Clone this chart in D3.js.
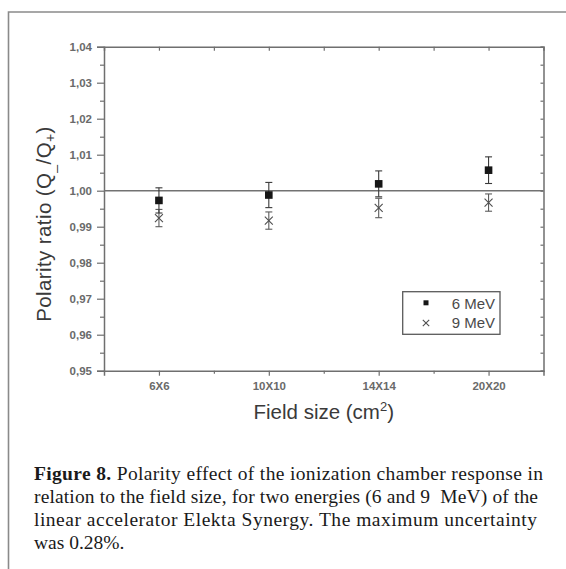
<!DOCTYPE html>
<html>
<head>
<meta charset="utf-8">
<script src="https://cdn.jsdelivr.net/npm/d3@7/dist/d3.min.js"></script>
<style>
  html, body { margin: 0; padding: 0; background: #fff; }
  svg { display: block; }
</style>
</head>
<body>
<div id="chart"></div>
<script>
// field sizes on the x axis
var categories = ["6X6", "10X10", "14X14", "20X20"];
// polarity ratio, 6 MeV and 9 MeV, with error bar half-widths
var mev6 = [0.9973, 0.9988, 1.0019, 1.0057];
var mev6Err = [0.0035, 0.0035, 0.0036, 0.0037];
var mev9 = [0.9924, 0.9917, 0.9952, 0.9967];
var mev9Err = [0.0024, 0.0024, 0.0027, 0.0024];
var yTicks = [0.95, 0.96, 0.97, 0.98, 0.99, 1.00, 1.01, 1.02, 1.03, 1.04];
var legendLabels = ["6 MeV", "9 MeV"];
var captionLines = [
  "relation to the field size, for two energies (6 and 9\u00a0 MeV) of the",
  "linear accelerator Elekta Synergy. The maximum uncertainty",
  "was 0.28%."
];

var width = 566, height = 569;
var plot = {left: 104, right: 543.5, top: 46.7, bottom: 370.7};
var axisColor = "#6f6f6f";

var svg = d3.select("#chart").append("svg")
    .attr("width", width).attr("height", height);

// outer frame (only left and top visible)
svg.append("path")
    .attr("d", "M8.5," + height + "V12H" + width)
    .attr("fill", "none").attr("stroke", "#8a8a8a").attr("stroke-width", 1.6);

var x = d3.scaleLinear().domain([0.5, 4.5]).range([plot.left, plot.right]);
var y = d3.scaleLinear().domain([0.95, 1.04]).range([plot.bottom, plot.top]);

var fmt = function (d) { return d3.format(".2f")(d).replace(".", ","); };

var minorY = d3.range(0, 19).map(function (i) { return 0.95 + i * 0.005; });

function styleAxis(g) {
  g.selectAll("path").attr("stroke", axisColor).attr("stroke-width", 1.5);
  g.selectAll("line").attr("stroke", axisColor).attr("stroke-width", 1.2);
  g.selectAll("text").attr("fill", "#6a6a6a")
      .style("font-family", "'Liberation Sans', Arial, sans-serif")
      .style("font-weight", "bold")
      .style("font-size", "11.5px");
}

// left axis
var gl = svg.append("g").attr("transform", "translate(" + plot.left + ",0)")
    .call(d3.axisLeft(y).tickValues(yTicks).tickFormat(fmt).tickSize(7).tickPadding(5));
styleAxis(gl);
var glm = svg.append("g").attr("transform", "translate(" + plot.left + ",0)")
    .call(d3.axisLeft(y).tickValues(minorY.filter(function (d, i) { return i % 2; }))
      .tickFormat("").tickSize(4));
styleAxis(glm);
glm.select("path").remove();

// right axis, ticks pointing inward
var gr = svg.append("g").attr("transform", "translate(" + plot.right + ",0)")
    .call(d3.axisRight(y).tickValues(minorY).tickFormat("").tickSize(-3));
styleAxis(gr);

// bottom axis
var gb = svg.append("g").attr("transform", "translate(0," + plot.bottom + ")")
    .call(d3.axisBottom(x).tickValues([1, 2, 3, 4])
      .tickFormat(function (d) { return categories[d - 1]; }).tickSize(5).tickPadding(6));
styleAxis(gb);
var gbm = svg.append("g").attr("transform", "translate(0," + plot.bottom + ")")
    .call(d3.axisBottom(x).tickValues([1.5, 2.5, 3.5]).tickFormat("").tickSize(3));
styleAxis(gbm);
gbm.select("path").remove();

// top axis, ticks pointing inward
var gt = svg.append("g").attr("transform", "translate(0," + plot.top + ")")
    .call(d3.axisTop(x).tickValues([1, 1.5, 2, 2.5, 3, 3.5, 4]).tickFormat("").tickSize(-4));
styleAxis(gt);

// reference line at 1.00
svg.append("line")
    .attr("x1", plot.left).attr("x2", plot.right)
    .attr("y1", y(1)).attr("y2", y(1))
    .attr("stroke", "#727272").attr("stroke-width", 1.5);

// error bars
function errorBars(vals, errs, color) {
  var g = svg.append("g").attr("stroke", color).attr("stroke-width", 1.1).attr("fill", "none");
  vals.forEach(function (v, i) {
    var cx = x(i + 1), top = y(v + errs[i]), bot = y(v - errs[i]);
    g.append("line").attr("x1", cx).attr("x2", cx).attr("y1", top).attr("y2", bot);
    g.append("line").attr("x1", cx - 3.5).attr("x2", cx + 3.5).attr("y1", top).attr("y2", top);
    g.append("line").attr("x1", cx - 3.5).attr("x2", cx + 3.5).attr("y1", bot).attr("y2", bot);
  });
}
errorBars(mev9, mev9Err, "#5c5c5c");
errorBars(mev6, mev6Err, "#3a3a3a");

// 9 MeV crosses
function cross(g, cx, cy, r) {
  g.append("path")
    .attr("d", "M" + (cx - r) + "," + (cy - r) + "L" + (cx + r) + "," + (cy + r) +
               "M" + (cx - r) + "," + (cy + r) + "L" + (cx + r) + "," + (cy - r))
    .attr("stroke", "#4f4f4f").attr("stroke-width", 1.1).attr("fill", "none");
}
var g9 = svg.append("g");
mev9.forEach(function (v, i) { cross(g9, x(i + 1), y(v), 4); });

// 6 MeV squares
svg.append("g").selectAll("rect").data(mev6).join("rect")
    .attr("x", function (d, i) { return x(i + 1) - 3.8; })
    .attr("y", function (d) { return y(d) - 3.8; })
    .attr("width", 7.6).attr("height", 7.6)
    .attr("fill", "#161616");

// legend
var lg = svg.append("g");
lg.append("rect").attr("x", 402.7).attr("y", 291.7).attr("width", 97.3).attr("height", 42.6)
    .attr("fill", "#fff").attr("stroke", "#5a5a5a").attr("stroke-width", 1.3);
lg.append("rect").attr("x", 423.5).attr("y", 300.3).attr("width", 5).attr("height", 5).attr("fill", "#161616");
cross(lg, 426, 323, 3.2);
lg.selectAll("text").data(legendLabels).join("text")
    .attr("x", 495).attr("y", function (d, i) { return 308.5 + i * 19; })
    .attr("text-anchor", "end")
    .attr("fill", "#4a4a4a")
    .style("font-family", "'Liberation Sans', Arial, sans-serif")
    .style("font-size", "15px")
    .text(function (d) { return d; });

// axis titles
var yl = svg.append("text")
    .attr("transform", "translate(51," + 224 + ") rotate(-90)")
    .attr("text-anchor", "middle")
    .attr("fill", "#3a3a3a")
    .style("font-family", "'Liberation Sans', Arial, sans-serif")
    .style("font-size", "20.5px")
    .style("letter-spacing", "0.4px");
yl.append("tspan").text("Polarity ratio (Q");
yl.append("tspan").attr("dy", 4).style("font-size", "14px").text("_");
yl.append("tspan").attr("dy", -4).text("/Q");
yl.append("tspan").attr("dy", 4).style("font-size", "14px").text("+");
yl.append("tspan").attr("dy", -4).text(")");

var xl = svg.append("text")
    .attr("x", (plot.left + plot.right) / 2).attr("y", 419)
    .attr("text-anchor", "middle")
    .attr("fill", "#3a3a3a")
    .style("font-family", "'Liberation Sans', Arial, sans-serif")
    .style("font-size", "20.5px");
xl.append("tspan").text("Field size ");
xl.append("tspan").style("font-weight", "300").text("(");
xl.append("tspan").text("cm");
xl.append("tspan").attr("dy", -8).style("font-size", "13px").text("2");
xl.append("tspan").attr("dy", 8).text(")");

// caption
var cap = svg.append("g")
    .style("font-family", "'Liberation Serif', 'Times New Roman', serif")
    .style("font-size", "19.5px")
    .attr("fill", "#1a1a1a");
var first = cap.append("text").attr("x", 34).attr("y", 480).attr("textLength", 509)
    .attr("lengthAdjust", "spacing");
first.append("tspan").style("font-weight", "bold").text("Figure 8.");
first.append("tspan").text(" Polarity effect of the ionization chamber response in");
cap.selectAll("text.line").data(captionLines).join("text")
    .attr("class", "line")
    .attr("x", 34).attr("y", function (d, i) { return 503 + i * 23; })
    .attr("textLength", function (d, i) { return i === 0 ? 504 : (i === 1 ? 503 : null); })
    .attr("lengthAdjust", "spacing")
    .text(function (d) { return d; });
</script>
</body>
</html>
